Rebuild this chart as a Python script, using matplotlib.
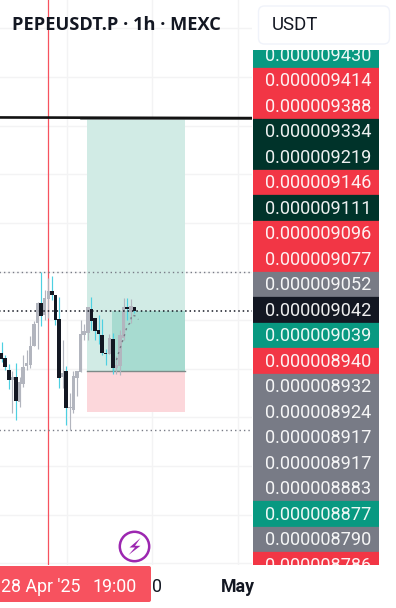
import matplotlib
matplotlib.use("Agg")
import matplotlib.pyplot as plt
from matplotlib.patches import FancyBboxPatch, Rectangle, Polygon, Circle

# candles, price in units of 1e-9
opens = [8964.6, 8955.6, 8934, 8916, 8921.4, 8876.4, 8908.8, 8941.2, 8943, 8977.2,
         9018.6, 9054.6, 9033, 9061.8, 9076.2, 9069, 9025.8, 8921.4, 8932.2, 8866.2,
         8862, 8919.6, 8930.4, 8997, 9000.6, 9043.8, 9027.6, 9006, 8997, 8964.6,
         8962.8, 8989.8, 8937.6, 8941.2, 8991.6, 9047.4, 9038.4, 9047.4]
highs = [8984.4, 8961, 8944.8, 8932.2, 8946.6, 8921.4, 8961, 8970, 8995.2, 9022.2,
         9056.4, 9110.4, 9078, 9099.6, 9103.2, 9069, 9065.4, 8988, 8941.2, 8892.6,
         8932.2, 8932.2, 9024, 9016.8, 9047.4, 9065.4, 9027.6, 9033, 9025.8, 8971.8,
         8998.8, 9000.6, 8959.2, 9006, 9063.6, 9063.6, 9061.8, 9047.4]
lows = [8949, 8934, 8899.8, 8856.6, 8844, 8867.4, 8903.4, 8934, 8937.6, 8977.2,
        8971.8, 9013.2, 9024, 9027.6, 9060, 9015, 8901.6, 8901.6, 8835, 8826,
        8856.6, 8887.2, 8930.4, 8988, 8988, 9006, 8988, 8980.8, 8961, 8943,
        8962.8, 8926.8, 8926.8, 8925, 8988, 9024, 9018, 9036]
closes = [8953.8, 8939.4, 8916, 8921.4, 8878.2, 8912.4, 8939.4, 8946.6, 8977.2, 9016.8,
          9054.6, 9031.2, 9063.6, 9076.2, 9069, 9024, 8919.6, 8928.6, 8865.6, 8867.4,
          8923.2, 8932.2, 8998.8, 9004.2, 9047.4, 9022.2, 9004.2, 8998.8, 8964.6, 8962.8,
          8991.6, 8937.6, 8943, 8997, 9047.4, 9043.8, 9049.2, 9040.2]

ghost_x = [32, 32.3, 33.2, 33.9, 34.8, 35.2, 35.9, 36.2, 37.4, 38.1]
ghost_y = [8952, 8959, 8977, 8990, 9009, 9015, 9019, 9033, 9031, 9025]

grid_prices = [9549.6, 9461.4, 9373.9, 9286.8, 9198.6, 9111.3, 9024, 8936.3, 8849.4,
               8761.2, 8673.9, 8586.6]
grid_times = [18.1, 41.8, 65.8]

crosshair_time = 13.05
last_price = 9041
alert_levels = [9110.4, 8826]
entry_price = 8932.2
target_price = 9387.6
stop_price = 8858.4
box_start = 23.8
box_end = 51.1
fill_start = 30.8

scale_labels = ["0.000009430", "0.000009414", "0.000009388", "0.000009334", "0.000009219",
                "0.000009146", "0.000009111", "0.000009096", "0.000009077", "0.000009052",
                "0.000009042", "0.000009039", "0.000008940", "0.000008932", "0.000008924",
                "0.000008917", "0.000008917", "0.000008883", "0.000008877", "0.000008790",
                "0.000008786"]
scale_colors = ["#089981", "#f23645", "#f23645", "#00332a", "#00332a",
                "#f23645", "#00332a", "#f23645", "#f23645", "#787b86",
                "#131722", "#089981", "#f23645", "#787b86", "#787b86",
                "#787b86", "#787b86", "#787b86", "#089981", "#787b86",
                "#f23645"]

W, H = 396, 608
plt.rcParams["font.family"] = ["Roboto", "DejaVu Sans"]
fig = plt.figure(figsize=(W / 100, H / 100), dpi=100, facecolor="white")

# chart pane
ax = fig.add_axes([0, (H - 565) / H, 252 / W, 565 / H])
ax.set_xlim(-0.446, 69.75)
ax.set_ylim(8583, 9600)
ax.axis("off")

ax.hlines(grid_prices, -1, 70, color="#f3f3f4", lw=1.0, zorder=1)
ax.vlines(grid_times, 8500, 9700, color="#f3f3f4", lw=1.0, zorder=1)

ax.axvline(crosshair_time, color="#f7525f", lw=0.9, zorder=2)

# long position tool
ax.fill_between([box_start, box_end], entry_price, target_price, color="#d1ebe5", lw=0, zorder=2)
ax.fill_between([box_start, box_end], stop_price, entry_price, color="#fcd7db", lw=0, zorder=2)
ax.fill_between([fill_start, box_end], entry_price, last_price, color="#a7dbd0", lw=0, zorder=2.1)
ax.plot([box_start, box_end], [entry_price, entry_price], color="#7d8a88", lw=1.0, zorder=2.5)

ax.plot([22, 70], [9385, 9385], color="#6b6f70", lw=1.2, zorder=3)
ax.plot([-1, 70], [9388.6, 9387.4], color="#131313", lw=1.9, zorder=3.1)

ax.hlines(alert_levels, -1, 70, color="#787b86", lw=1.0, linestyles=(0, (1, 2.2)), zorder=3)
ax.hlines(last_price, -1, 70, color="#131722", lw=1.1, linestyles=(0, (1, 1.9)), zorder=6)

for i in range(len(opens)):
    down = closes[i] < opens[i]
    body = "#131722" if down else "#b2b5be"
    wick = "#4dd0e1" if down else "#b2b5be"
    ax.vlines(i, lows[i], highs[i], color=wick, lw=0.85, zorder=4)
    ax.bar(i, abs(closes[i] - opens[i]), bottom=min(opens[i], closes[i]), width=0.98,
           color=body, lw=0, zorder=5)

ax.plot(ghost_x, ghost_y, color="#787b86", lw=1.0, ls=(0, (1.5, 3)), zorder=5.5)

# everything round the pane, in pixel coordinates
ui = fig.add_axes([0, 0, 1, 1])
ui.set_xlim(0, W)
ui.set_ylim(H, 0)
ui.axis("off")
ui.patch.set_alpha(0)

ui.text(12, 25, "PEPEUSDT.P · 1h · MEXC", fontsize=13.15, fontweight="bold", color="#131722",
        family=["Open Sans", "DejaVu Sans"], va="center", ha="left")

ui.add_patch(FancyBboxPatch((258.5, 6), 131, 38, boxstyle="round,pad=0,rounding_size=6",
                            fc="white", ec="#f0f3fa", lw=1.0))
ui.text(272, 25, "USDT", fontsize=13.4, color="#131722", va="center", ha="left")

# price scale labels, stacked and cut off at both ends
clip = Rectangle((253, 50), 126, 515, transform=ui.transData)
for i, (label, colour) in enumerate(zip(scale_labels, scale_colors)):
    centre = 55 + 25.5 * i
    band = Rectangle((253, centre - 12.75), 126, 25.5, fc=colour, ec=colour, lw=0.2)
    ui.add_patch(band)
    band.set_clip_path(clip)
    t = ui.text(371, centre + 0.9, label, fontsize=13.1, color="white", alpha=0.93,
                va="center", ha="right")
    t.set_clip_path(clip)

# time axis
ui.text(157, 587, "0", fontsize=12.8, color="#131722", va="center", ha="center")
may = ui.text(221, 587, "May", fontsize=12.8, fontweight="bold", color="#131722",
              va="center", ha="left")
may.set_clip_path(Rectangle((200, 560), 52, 48, transform=ui.transData))

ui.add_patch(FancyBboxPatch((-6, 566), 157, 36, boxstyle="round,pad=0,rounding_size=2",
                            fc="#f7525f", ec="none"))
ui.text(1, 587, "28 Apr '25", fontsize=12.8, color="white", va="center", ha="left")
ui.text(137, 587, "19:00", fontsize=12.8, color="white", va="center", ha="right")

# lightning badge
ui.add_patch(Circle((134.5, 546.5), 14.7, fc="white", ec="#9c27b0", lw=1.8))
ui.add_patch(Polygon([(140.5, 538), (129.5, 547.5), (135, 547.5), (128.5, 555),
                      (140.5, 545.8), (135, 545.8)], fc="#9c27b0", ec="none"))

fig.savefig("out.png", dpi=100)
